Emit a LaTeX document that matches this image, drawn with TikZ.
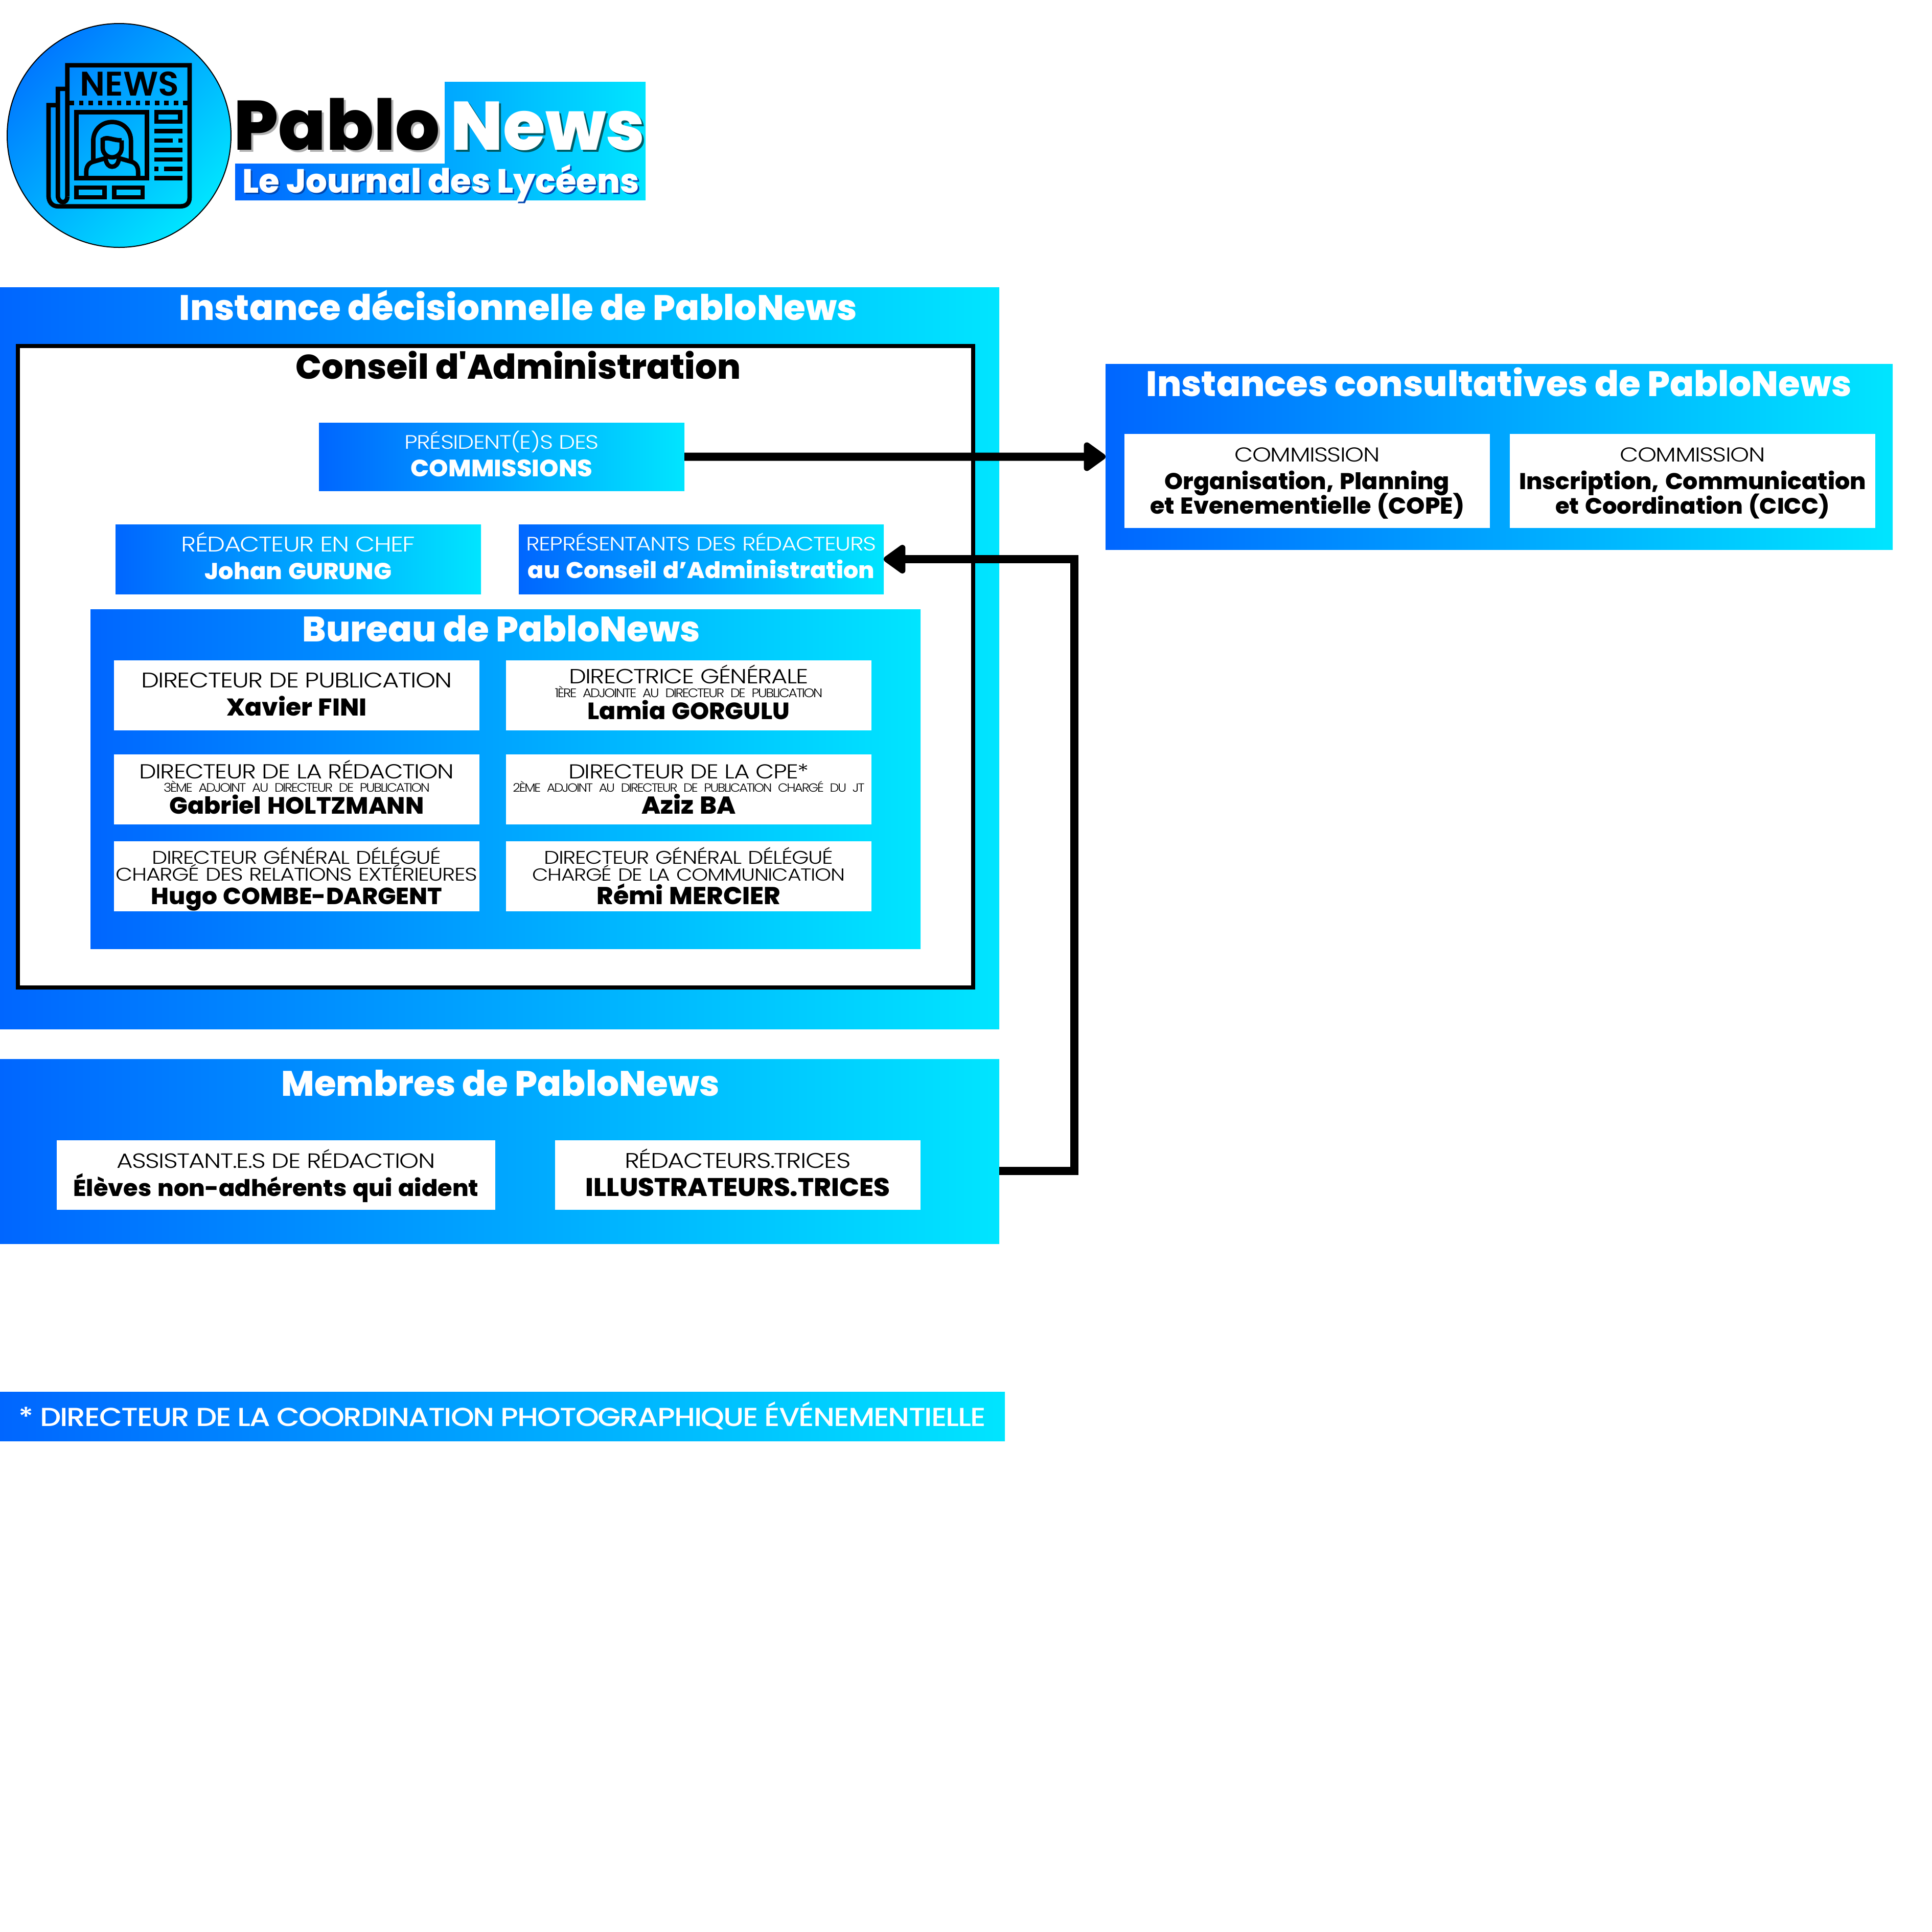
\documentclass[tikz,border=0pt]{standalone}
\usepackage{fontspec}
\usetikzlibrary{arrows.meta}
\newfontfamily\finfont{Poppins Light}[LetterSpace=-4,FakeStretch=1.2,WordSpace=0.6]
\newfontfamily\petitfont{Poppins Light}[LetterSpace=-10,FakeStretch=1.1,WordSpace=0.1]
\newfontfamily\moyenfont{Poppins Medium}[LetterSpace=-4,FakeStretch=1.145,WordSpace=0.6]
\newfontfamily\grasfont{Poppins ExtraBold}
\newfontfamily\largefont{Poppins ExtraBold}[FakeStretch=1.03]
\newcommand{\fin}[2][11.8]{{\finfont\fontsize{#1}{0}\selectfont #2}}
\newcommand{\petit}[2][6.9]{\mbox{\petitfont\fontsize{#1}{0}\selectfont #2}}
\newcommand{\gros}[2][12.8]{{\largefont\fontsize{#1}{0}\selectfont #2}}
\definecolor{bleuA}{HTML}{0066FF}
\definecolor{bleuB}{HTML}{00E5FF}
\tikzset{
  panneau/.style={left color=bleuA, right color=bleuB, anchor=north west, inner sep=0pt, outer sep=0pt},
  titre/.style={anchor=base, inner sep=0pt, font=\grasfont\fontsize{19.7}{0}\selectfont},
  casetexte/.style={anchor=north west, inner sep=0pt, outer sep=0pt, align=center,
    execute at begin node={\baselineskip=0pt\lineskiplimit=-\maxdimen}},
  casebleue/.style={casetexte, left color=bleuA, right color=bleuB, text=white},
  caseblanche/.style={casetexte, fill=white, text=black},
  % hauteur au-dessus de la ligne de base, puis en dessous
  lignes/.style 2 args={text height=#1cm, text depth=#2cm},
  bureau/.style={caseblanche, text width=7.15cm},
  lien/.style={line width=0.16cm, -{Triangle[length=0.47cm,width=0.64cm,round]}},
  icone/.style={line width=0.087cm, black}
}
\begin{document}
\begin{tikzpicture}[y=-1cm]
\useasboundingbox (0,0) rectangle (37.8,37.8);

% Logo
\shade[left color=bleuA!85!bleuB, right color=bleuB, shading angle=45, draw=black, line width=0.02cm] (2.33,2.65) circle (2.19);
\begin{scope}[shift={(0.6,1)},x=0.003333cm,y=-0.003333cm,icone]
  \draw (216,855) -- (216,83) -- (935,83) -- (935,860) .. controls (935,895) and (915,913) .. (880,913)
    -- (160,913) .. controls (125,913) and (105,885) .. (105,850) -- (105,318) -- (160,318);
  \draw (216,222) -- (160,222) -- (160,850) .. controls (160,875) and (175,888) .. (190,888)
    .. controls (205,888) and (216,875) .. (216,855);
  \draw[dash pattern=on 0.0867cm off 0.0985cm] (229,305) -- (923,305);
  \draw (270,360) rectangle (685,748);
  \draw (368,640) -- (368,530) .. controls (368,460) and (420,417) .. (479,417)
    .. controls (540,417) and (590,460) .. (590,530) -- (590,640);
  \draw (535,525) -- (535,570) .. controls (535,600) and (510,625) .. (479,625)
    .. controls (448,625) and (424,600) .. (424,570) -- (424,520) .. controls (450,500) and (480,525) .. (535,525);
  \draw (327,735) -- (327,710) .. controls (327,670) and (350,655) .. (370,650) -- (440,630)
    .. controls (445,665) and (460,680) .. (479,680) .. controls (500,680) and (515,665) .. (520,630)
    -- (590,650) .. controls (610,655) and (632,670) .. (632,710) -- (632,735);
  \draw (740,360) rectangle (880,415);
  \draw (728,470) -- (893,470);
  \draw (728,526) -- (835,526) (868,526) -- (893,526);
  \draw (728,581) -- (893,581);
  \draw (728,637) -- (893,637);
  \draw (728,692) -- (752,692) (784,692) -- (893,692);
  \draw (728,748) -- (893,748);
  \draw (270,803) rectangle (435,860);
  \draw (492,803) rectangle (658,860);
  \node[anchor=base, inner sep=0pt, font=\fontspec{Poppins SemiBold}\fontsize{19}{0}\selectfont] (news) at (581,262) {NEWS};
\end{scope}
\shade[left color=bleuA, right color=bleuB] (8.7,1.6) -- (12.63,1.6) -- (12.63,3.92) -- (4.6,3.92) -- (4.6,3.2) -- (8.7,3.2) -- cycle;
\node[anchor=base west, inner sep=0pt, text=black!30, font=\grasfont\fontsize{39}{0}\selectfont] (pablo ombre) at (4.61,2.97) {Pablo};
\node[anchor=base west, inner sep=0pt, font=\grasfont\fontsize{39}{0}\selectfont] (pablo) at (4.57,2.93) {Pablo};
\node[anchor=base west, inner sep=0pt, text=black!60!bleuB, font=\grasfont\fontsize{38.2}{0}\selectfont] (news titre ombre) at (8.85,2.97) {News};
\node[anchor=base west, inner sep=0pt, text=white, font=\grasfont\fontsize{38.2}{0}\selectfont] (news titre) at (8.81,2.93) {News};
\node[anchor=base west, inner sep=0pt, text=black!30!bleuA, font=\grasfont\fontsize{18.7}{0}\selectfont] (journal ombre) at (4.77,3.80) {Le Journal des Lycéens};
\node[anchor=base west, inner sep=0pt, text=white, font=\grasfont\fontsize{18.7}{0}\selectfont] (journal) at (4.74,3.77) {Le Journal des Lycéens};

% Instance decisionnelle
\node[panneau, minimum width=19.55cm, minimum height=14.51cm] (decision) at (0,5.62) {};
\node[titre, text=white] (decision titre) at (10.14,6.26) {Instance décisionnelle de PabloNews};
\node[anchor=north west, inner sep=0pt, outer sep=0pt, draw=black, fill=white, line width=0.08cm, minimum width=18.69cm, minimum height=12.55cm] (conseil) at (0.35,6.77) {};
\node[titre, text=black, font=\grasfont\fontsize{19.1}{0}\selectfont] (conseil titre) at (10.14,7.41) {Conseil d'Administration};

\node[casebleue, text width=7.15cm, lignes={0.51}{0.82}] (commissions) at (6.24,8.27) {\fin[10.8]{PRÉSIDENT(E)S DES}\\[0.54cm]\gros[13.2]{COMMISSIONS}};
\node[casebleue, text width=7.15cm, lignes={0.53}{0.83}] (chef) at (2.26,10.26) {\fin{RÉDACTEUR EN CHEF}\\[0.54cm]\gros{Johan GURUNG}};
\node[casebleue, text width=7.14cm, lignes={0.51}{0.85}] (representants) at (10.15,10.26) {\fin[10.8]{REPRÉSENTANTS DES RÉDACTEURS}\\[0.54cm]\gros[12.7]{au Conseil d’Administration}};

% Bureau
\node[panneau, minimum width=16.24cm, minimum height=6.64cm] (bureau) at (1.77,11.92) {};
\node[titre, text=white] (bureau titre) at (9.81,12.55) {Bureau de PabloNews};
\node[bureau, lignes={0.53}{0.84}] (publication) at (2.23,12.92) {\fin{DIRECTEUR DE PUBLICATION}\\[0.55cm]\gros[13.5]{Xavier FINI}};
\node[bureau, lignes={0.455}{0.915}] (generale) at (9.90,12.92) {\fin[11.4]{DIRECTRICE GÉNÉRALE}\\[0.265cm]\petit{1ÈRE ADJOINTE AU DIRECTEUR DE PUBLICATION}\\[0.43cm]\gros[13.1]{Lamia GORGULU}};
\node[bureau, lignes={0.47}{0.90}] (redaction) at (2.23,14.76) {\fin[11.3]{DIRECTEUR DE LA RÉDACTION}\\[0.26cm]\petit[6.8]{3ÈME ADJOINT AU DIRECTEUR DE PUBLICATION}\\[0.43cm]\gros[13.1]{Gabriel HOLTZMANN}};
\node[bureau, lignes={0.47}{0.90}] (cpe) at (9.90,14.76) {\fin[11.2]{DIRECTEUR DE LA CPE*}\\[0.26cm]\petit[6.6]{2ÈME ADJOINT AU DIRECTEUR DE PUBLICATION CHARGÉ DU JT}\\[0.43cm]\gros[13.6]{Aziz BA}};
\node[bureau, lignes={0.44}{0.93}] (exterieures) at (2.23,16.46) {\fin[10.2]{DIRECTEUR GÉNÉRAL DÉLÉGUÉ}\\[0.33cm]\fin[10.2]{CHARGÉ DES RELATIONS EXTÉRIEURES}\\[0.46cm]\gros[13]{Hugo COMBE-DARGENT}};
\node[bureau, lignes={0.44}{0.93}] (communication) at (9.90,16.46) {\fin[10.2]{DIRECTEUR GÉNÉRAL DÉLÉGUÉ}\\[0.33cm]\fin[9.7]{CHARGÉ DE LA COMMUNICATION}\\[0.46cm]\gros[13.6]{Rémi MERCIER}};

% Membres
\node[panneau, minimum width=19.55cm, minimum height=3.61cm] (membres) at (0,20.72) {};
\node[titre, text=white] (membres titre) at (9.79,21.44) {Membres de PabloNews};
\node[caseblanche, text width=8.58cm, lignes={0.54}{0.82}] (assistants) at (1.11,22.31) {\fin[11.5]{ASSISTANT.E.S DE RÉDACTION}\\[0.55cm]\gros{Élèves non-adhérents qui aident}};
\node[caseblanche, text width=7.15cm, lignes={0.54}{0.82}] (redacteurs) at (10.86,22.31) {\fin{RÉDACTEURS.TRICES}\\[0.55cm]\gros[14.2]{ILLUSTRATEURS.TRICES}};

% Note
\node[casebleue, text width=19.66cm, lignes={0.67}{0.29}, text=white] (note) at (0,27.23) {{\moyenfont\fontsize{14.5}{0}\selectfont * DIRECTEUR DE LA COORDINATION PHOTOGRAPHIQUE ÉVÉNEMENTIELLE}};

% Instances consultatives
\node[panneau, minimum width=15.40cm, minimum height=3.63cm] (consultatives) at (21.63,7.12) {};
\node[titre, text=white] (consultatives titre) at (29.33,7.75) {Instances consultatives de PabloNews};
\node[caseblanche, text width=7.15cm, lignes={0.54}{1.30}] (cope) at (22.00,8.49) {\fin[11.2]{COMMISSION}\\[0.54cm]\gros[12.7]{Organisation, Planning}\\[0.48cm]\gros{et Evenementielle (COPE)}};
\node[caseblanche, text width=7.15cm, lignes={0.54}{1.30}] (cicc) at (29.54,8.49) {\fin[11.2]{COMMISSION}\\[0.54cm]\gros[12.7]{Inscription, Communication}\\[0.48cm]\gros[12.4]{et Coordination (CICC)}};

% Liens
\coordinate (coude) at (21.02,22.91);
\draw[lien] (commissions.east) -- (consultatives.west);
\draw[lien] (membres.east |- coude) -- (coude) |- (representants.east);
\end{tikzpicture}
\end{document}
